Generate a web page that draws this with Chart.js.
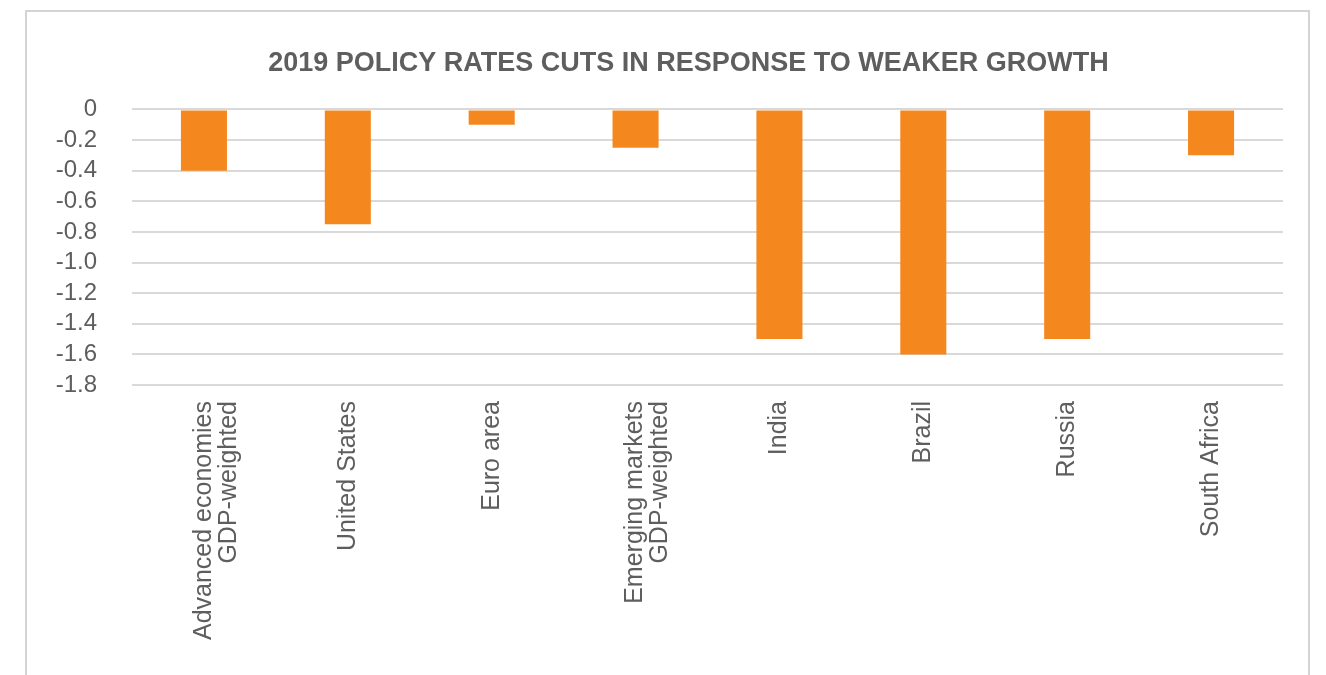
<!DOCTYPE html>
<html>
<head>
<meta charset="utf-8">
<script src="https://cdn.jsdelivr.net/npm/chart.js@4"></script>
<style>
    body { margin: 0; background: #fff; }
    #frame { position: absolute; left: 25px; top: 10px; width: 1285px; height: 700px; border: 2px solid #d4d4d4; box-sizing: border-box; }
    #wrap { position: absolute; left: 0; top: 0; width: 1326px; height: 675px; }
</style>
</head>
<body>
<div id="frame"></div>
<div id="wrap"><canvas id="rateChart" width="1326" height="675"></canvas></div>
<script>
let categories = [
    ['Advanced economies', 'GDP-weighted'],
    'United States',
    'Euro area',
    ['Emerging markets', 'GDP-weighted'],
    'India',
    'Brazil',
    'Russia',
    'South Africa'
];
let rateCuts = [-0.4, -0.75, -0.1, -0.25, -1.5, -1.6, -1.5, -0.3];
let yTicks = [0, -0.2, -0.4, -0.6, -0.8, -1.0, -1.2, -1.4, -1.6, -1.8];

const grey = '#5e5e5e';
const font = '"Liberation Sans", Arial, sans-serif';
const ctx = document.getElementById('rateChart').getContext('2d');

// the original title sits a little right of the canvas centre
const shiftTitle = {
    id: 'shiftTitle',
    afterLayout(chart) {
        if (chart.titleBlock) {
            chart.titleBlock.left += 47;
            chart.titleBlock.right += 47;
        }
    }
};

new Chart(ctx, {
    type: 'bar',
    data: {
        labels: categories,
        datasets: [{
            label: 'Policy rate change',
            data: rateCuts,
            backgroundColor: '#F5871F',
            barPercentage: 0.32,
            categoryPercentage: 1
        }]
    },
    options: {
        responsive: false,
        animation: false,
        layout: { padding: { left: 0, right: 43, top: 0, bottom: 0 } },
        plugins: {
            legend: { display: false },
            tooltip: { enabled: false },
            title: {
                display: true,
                text: '2019 POLICY RATES CUTS IN RESPONSE TO WEAKER GROWTH',
                color: grey,
                font: { family: font, size: 27, weight: 'bold' },
                padding: { top: 47, bottom: 30 }
            }
        },
        scales: {
            x: {
                grid: { display: false },
                border: { display: false },
                ticks: {
                    color: grey,
                    minRotation: 90,
                    maxRotation: 90,
                    padding: 8,
                    font: { family: font, size: 25, lineHeight: 1.0 }
                },
                afterFit: scale => { scale.height = 290; }
            },
            y: {
                min: -1.8,
                max: 0,
                afterBuildTicks: scale => { scale.ticks = yTicks.map(v => ({ value: v })); },
                afterFit: scale => { scale.width = 132; },
                border: { display: false },
                grid: { color: '#d9d9d9', lineWidth: 2, drawTicks: false },
                ticks: {
                    color: grey,
                    padding: 35,
                    autoSkip: false,
                    font: { family: font, size: 24 },
                    callback: v => v === 0 ? '0' : v.toFixed(1)
                }
            }
        }
    },
    plugins: [shiftTitle]
});
</script>
</body>
</html>
